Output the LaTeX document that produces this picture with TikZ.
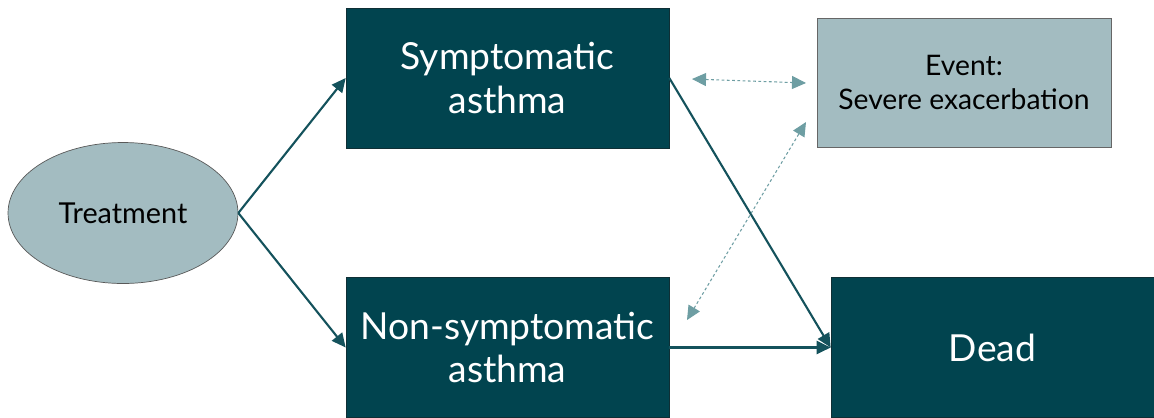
\documentclass[tikz,border=0pt]{standalone}
\usepackage{fontspec}
\setmainfont{Lato}
\usepackage{tikz}
\usetikzlibrary{arrows.meta,shapes.geometric}
\definecolor{state_dark}{HTML}{01444F}
\definecolor{state_edge}{HTML}{0F2F35}
\definecolor{state_light}{HTML}{A3BCC1}
\definecolor{link_main}{HTML}{14525C}
\definecolor{link_assoc}{HTML}{6E9EA3}
\tikzset{
    statebox/.style={draw=state_edge,fill=state_dark,text=white,minimum width=6.46cm,minimum height=2.8cm,align=center,font=\fontsize{21.2}{25}\selectfont,inner sep=0pt},
    eventbox/.style={draw=gray!80!black,fill=state_light,text=black,minimum width=5.88cm,minimum height=2.58cm,align=center,font=\fontsize{16.1}{18.9}\selectfont,inner sep=0pt},
    startnode/.style={ellipse,draw=gray!70!black,fill=state_light,text=black,minimum width=4.6cm,minimum height=2.82cm,font=\fontsize{16.4}{19}\selectfont,inner sep=0pt},
    transition/.style={-{Triangle[length=2.8mm,width=2.6mm]},link_main,line width=1.2pt},
    association/.style={{Triangle[length=2.8mm,width=2.6mm]}-{Triangle[length=2.8mm,width=2.6mm]},link_assoc,line width=0.6pt,dash pattern=on 1.6pt off 1.4pt},
}

\begin{document}
\begin{tikzpicture}[x=0.02cm,y=-0.02cm]
  \useasboundingbox (0,0) rectangle (1154,417);
  % States
  \node[startnode] (treat) at (123,213) {Treatment};
  \node[statebox] (symp) at (507.5,78) {Symptomatic\\asthma};
  \node[statebox] (nonsymp) at (507.5,347.5) {Non-symptomatic\\asthma};
  \node[statebox] (dead) at (992.5,347.5) {Dead};
  \node[eventbox] (event) at (964,82.5) {Event:\\Severe exacerbation};
  % Free ends of the dotted links
  \coordinate (symp_near) at (692,79);
  \coordinate (event_near) at (806,83);
  \coordinate (event_low) at (806,122);
  \coordinate (nonsymp_near) at (687,320);
  % Transitions
  \draw[transition] (treat.east) -- (symp.west);
  \draw[transition] (treat.east) -- (nonsymp.west);
  \draw[transition] (symp.east) -- (dead.west);
  \draw[transition] (nonsymp.east) -- (dead.west);
  % Event links
  \draw[association] (symp_near) -- (event_near);
  \draw[association] (nonsymp_near) -- (event_low);
\end{tikzpicture}
\end{document}
